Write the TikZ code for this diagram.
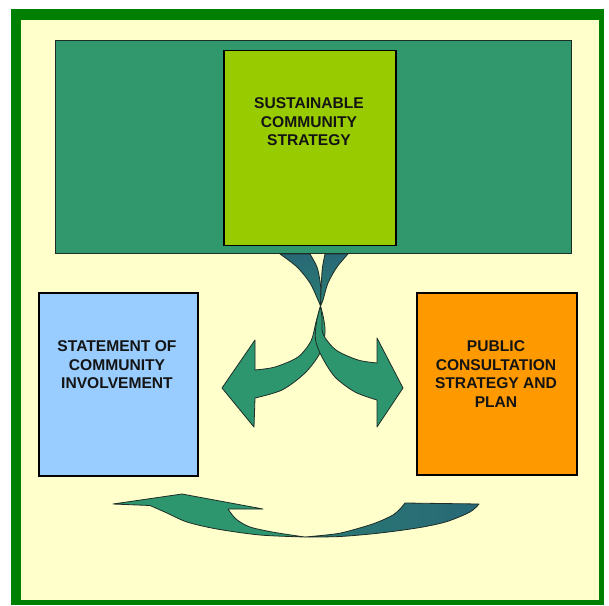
\documentclass[tikz,border=0pt]{standalone}
\usepackage{fontspec}
\setmainfont{Liberation Sans}
\definecolor{framegreen}{RGB}{0,128,0}
\definecolor{cream}{RGB}{255,255,204}
\definecolor{bandgreen}{RGB}{48,152,108}
\definecolor{arrgreen}{RGB}{46,150,110}
\definecolor{arrdark}{RGB}{40,104,118}
\definecolor{lime}{RGB}{153,204,0}
\definecolor{lightblue}{RGB}{153,204,255}
\definecolor{orangebox}{RGB}{255,153,0}
\definecolor{outl}{RGB}{30,45,40}
\definecolor{txt}{RGB}{20,20,20}
\tikzset{
  box/.style={draw=black, line width=1.8pt, inner sep=0pt},
  lbl/.style={text=txt, font=\fontsize{15.6}{18.5}\selectfont\bfseries, align=center},
  arrshape/.style={draw=outl, line width=0.8pt, line join=round}
}
\begin{document}
\begin{tikzpicture}[x=1pt,y=-1pt]
\useasboundingbox (0,0) rectangle (609,605);
\fill[white] (0,0) rectangle (609,605);
% frame
\fill[framegreen] (11,9) rectangle (604,605);
\fill[cream] (21,20) rectangle (599,600);
% dark green band
\node[draw=outl, line width=0.8pt, fill=bandgreen, minimum width=516pt, minimum height=213pt, inner sep=0pt] (band) at (313,146.5) {};
% boxes
\node[box, fill=lime, minimum width=172pt, minimum height=195pt] (scs) at (310,148) {};
\node[lbl] (scst) at (309,122) {SUSTAINABLE\\COMMUNITY\\STRATEGY};
\node[box, fill=lightblue, minimum width=159pt, minimum height=183pt] (sci) at (118.5,384.5) {};
\node[lbl] (scit) at (117,365) {STATEMENT OF\\COMMUNITY\\INVOLVEMENT};
\node[box, fill=orangebox, minimum width=160pt, minimum height=182pt] (pcs) at (497,384) {};
\node[lbl] (pcst) at (496,374) {PUBLIC\\CONSULTATION\\STRATEGY AND\\PLAN};
% crossing arrows: upper bands
\coordinate (P) at (320.5,306);
\path[arrshape, top color=arrdark, bottom color=arrdark!55!arrgreen]
  plot[smooth] coordinates {(280,254) (297,267) (310,283) (318,300) (P)}
  -- plot[smooth] coordinates {(P) (320.8,290) (320,281) (317,267) (310,254)} -- cycle;
\path[arrshape, top color=arrdark, bottom color=arrdark!55!arrgreen]
  plot[smooth] coordinates {(348,254) (337,267) (328,283) (323,300) (P)}
  -- plot[smooth] coordinates {(P) (321,290) (321.6,278) (322.5,267) (325,254)} -- cycle;
% lower left arrow
\path[arrshape, fill=arrgreen]
  plot[smooth] coordinates {(P) (323.5,318) (325,333) (320,353) (305,373) (282,390) (255,398)}
  -- (254,427) -- (222,388) -- (255,340)
  -- plot[smooth] coordinates {(255,370) (275,367) (298,357) (311,341) (316,322) (P)} -- cycle;
% lower right arrow
\path[arrshape, fill=arrgreen]
  plot[smooth] coordinates {(P) (316.5,322) (315.5,340) (322,357) (335,377) (355,392) (377,400)}
  -- (377,427) -- (403,388) -- (377,338)
  -- plot[smooth] coordinates {(377,363) (358,360) (336,350) (323,334) (322,318) (P)} -- cycle;
% bottom curved arrow
\coordinate (Q) at (305,537);
\path[arrshape, fill=arrgreen]
  plot[smooth] coordinates {(Q) (275,532.5) (250,527) (236,519) (228,509)}
  -- (263,509) -- (182,494) -- (113,504) -- (150,505.5)
  -- plot[smooth] coordinates {(150,505.5) (167,513) (187,522) (217,529) (260,535) (Q)} -- cycle;
\path[arrshape, left color=arrdark!60!arrgreen, right color=arrdark]
  plot[smooth] coordinates {(Q) (340,536.5) (380,533) (420,527.5) (447,521.5) (470,512) (479,504)}
  -- (405,503)
  -- plot[smooth] coordinates {(405,503) (400,509) (393,515) (378,522) (363,527) (338,533.5) (Q)} -- cycle;
\end{tikzpicture}
\end{document}
